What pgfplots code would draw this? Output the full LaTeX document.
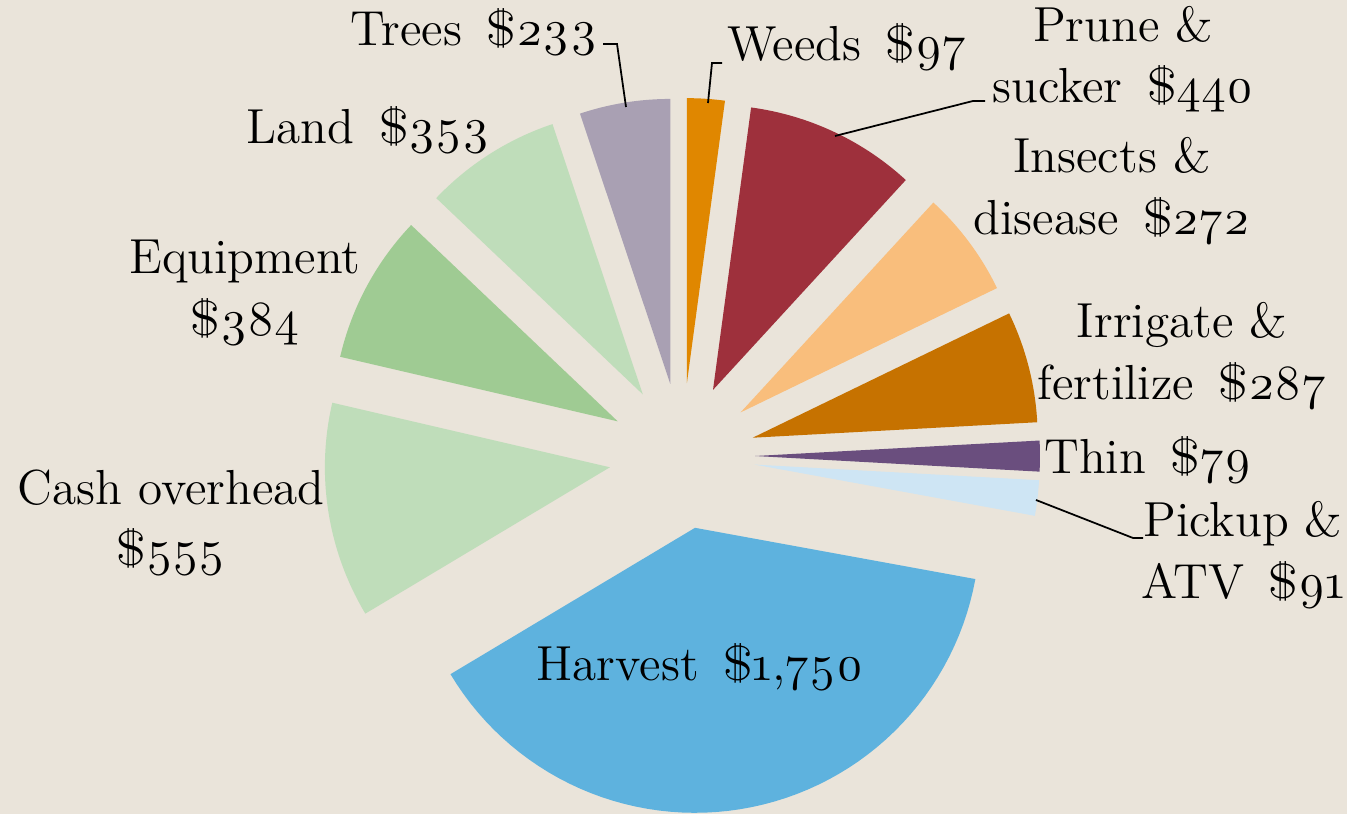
\documentclass[border=0pt]{standalone}
\usepackage{pgfplots}
\pgfplotsset{compat=1.18}
\usepackage{fontspec}
\setmainfont{Latin Modern Roman}[Numbers=OldStyle]
\definecolor{bg}{HTML}{EAE4DA}
\definecolor{cWeeds}{HTML}{E08700}
\definecolor{cPrune}{HTML}{9E303C}
\definecolor{cInsects}{HTML}{F9BE7C}
\definecolor{cIrrig}{HTML}{C67200}
\definecolor{cThin}{HTML}{6A4E7E}
\definecolor{cPickup}{HTML}{CEE5F4}
\definecolor{cHarvest}{HTML}{5EB2DE}
\definecolor{cCash}{HTML}{BFDDBA}
\definecolor{cEquip}{HTML}{9FCB93}
\definecolor{cLand}{HTML}{BFDDBA}
\definecolor{cTrees}{HTML}{A9A0B3}
\tikzset{lbl/.style={font=\fontsize{14}{17.5}\selectfont, align=center, inner sep=0pt}}

% value / colour, clockwise from 12 o'clock
\def\slices{97/cWeeds, 440/cPrune, 272/cInsects, 287/cIrrig, 79/cThin, 91/cPickup,
  1750/cHarvest, 555/cCash, 384/cEquip, 353/cLand, 233/cTrees}
\def\cx{682}\def\cy{358}\def\R{285}\def\E{73}

\begin{document}
\begin{tikzpicture}
\begin{axis}[
    hide axis,
    scale only axis,
    width=13.47cm, height=8.14cm,
    xmin=0, xmax=1347, ymin=0, ymax=814,
    clip=false,
]
\fill[bg] (axis cs:0,0) rectangle (axis cs:1347,814);

% total
\xdef\total{0}
\foreach \v/\c in \slices {\pgfmathsetmacro\t{\total+\v}\xdef\total{\t}}

% wedges
\xdef\cum{0}
\foreach \v/\c in \slices {
  \pgfmathsetmacro\s{\cum/\total*360}
  \pgfmathsetmacro\e{(\cum+\v)/\total*360}
  \pgfmathsetmacro\m{(\s+\e)/2}
  \pgfmathsetmacro\ox{\cx+\E*sin(\m)}
  \pgfmathsetmacro\oy{\cy+\E*cos(\m)}
  \edef\temp{\noexpand\addplot[fill=\c, draw=none, domain=\s:\e, samples=60]
    ({\ox+\R*sin(x)},{\oy+\R*cos(x)}) -- (axis cs:\ox,\oy) -- cycle;}
  \temp
  \pgfmathsetmacro\n{\cum+\v}\xdef\cum{\n}
}

% leader lines
\addplot[black, line width=0.5pt] coordinates {(603,770) (617,770) (626,707)};
\addplot[black, line width=0.5pt] coordinates {(722,751) (712,751) (708,711)};
\addplot[black, line width=0.5pt] coordinates {(985,713) (973,713) (835,678)};
\addplot[black, line width=0.5pt] coordinates {(1036,314) (1133,276) (1143,276)};

% labels
\node[lbl] at (axis cs:474,782) {Trees\enspace\$233};
\node[lbl] at (axis cs:847,767) {Weeds\enspace\$97};
\node[lbl] at (axis cs:1123,755) {Prune \&\\sucker\enspace\$440};
\node[lbl] at (axis cs:1112,623) {Insects \&\\disease\enspace\$272};
\node[lbl] at (axis cs:1182,458) {Irrigate \&\\fertilize\enspace\$287};
\node[lbl] at (axis cs:1148,354) {Thin\enspace\$79};
\node[lbl] at (axis cs:1243,259) {Pickup \&\\ATV\enspace\$91};
\node[lbl] at (axis cs:700,147) {Harvest\enspace\$1,750};
\node[lbl] at (axis cs:171,291) {Cash overhead\\\$555};
\node[lbl] at (axis cs:245,521) {Equipment\\\$384};
\node[lbl] at (axis cs:368,684) {Land\enspace\$353};
\end{axis}
\pgfresetboundingbox
\useasboundingbox (0,0) rectangle (13.47cm,8.14cm);
\end{tikzpicture}
\end{document}
